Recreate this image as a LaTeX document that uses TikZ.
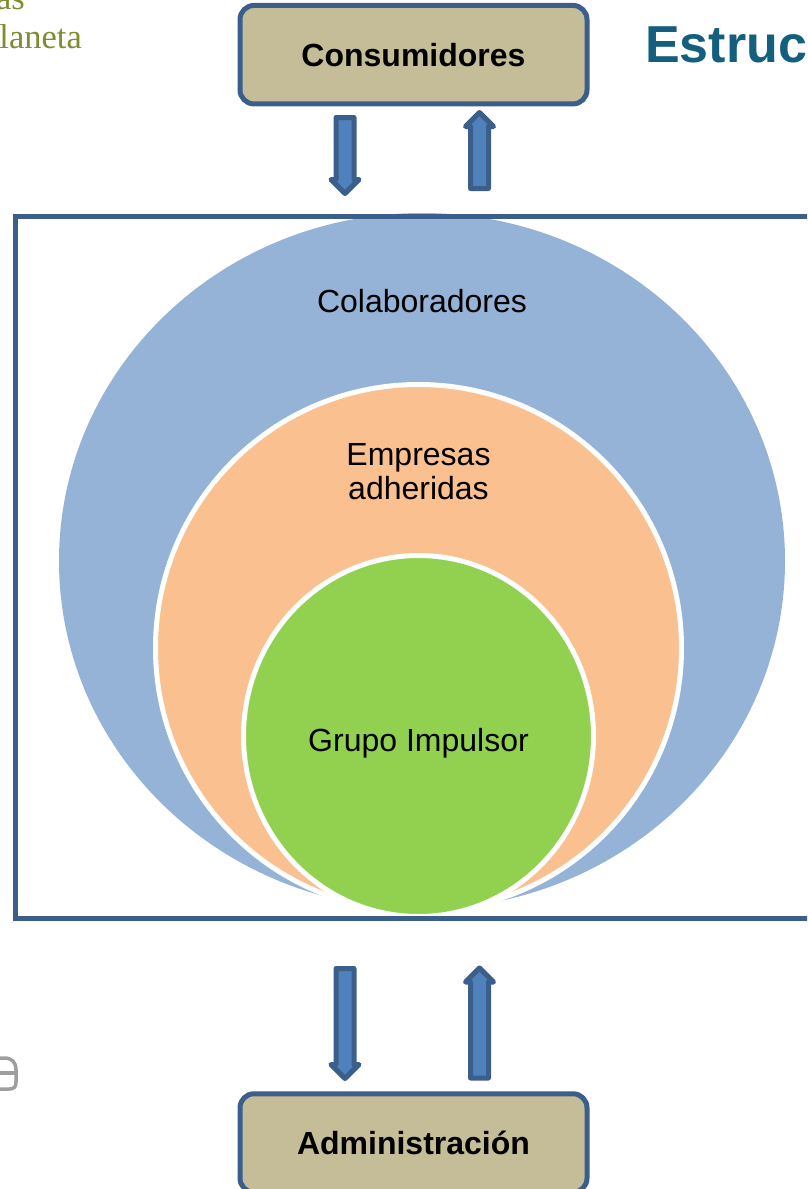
\documentclass[tikz,border=0pt]{standalone}
\usepackage{fontspec}
\setmainfont{Liberation Sans}
\newfontfamily\logofont{Liberation Serif}
\usetikzlibrary{shapes.arrows,shapes.geometric,positioning}
\definecolor{boxblue}{HTML}{3B5F8A}
\definecolor{boxsand}{HTML}{C4BD97}
\definecolor{arrowblue}{HTML}{4F81BD}
\definecolor{outerblue}{HTML}{95B3D7}
\definecolor{midorange}{HTML}{FAC08F}
\definecolor{innergreen}{HTML}{92D050}
\definecolor{titleteal}{HTML}{145F7D}
\definecolor{logoolive}{HTML}{7F8C2F}

\begin{document}
\begin{tikzpicture}[x=1pt,y=-1pt,
            main box/.style={rectangle,rounded corners=14pt,draw=boxblue,fill=boxsand,line width=5pt,
                minimum width=347pt,minimum height=98.5pt,font=\fontsize{32}{34}\selectfont\bfseries},
            flow arrow/.style={single arrow,draw=boxblue,fill=arrowblue,line width=5pt,line join=round,
                inner sep=6.5pt,minimum height=76pt,single arrow head extend=5pt,
                single arrow head indent=0pt},
            down arrow/.style={flow arrow,shape border rotate=270},
            up arrow/.style={flow arrow,shape border rotate=90},
            ring/.style={ellipse,draw=white,line width=5pt,inner sep=0pt},
            ring label/.style={font=\fontsize{32}{34}\selectfont,align=center}]

        \useasboundingbox (0,0) rectangle (807,1189);
        \clip (0,0) rectangle (807,1189);

        \node[ellipse,fill=outerblue,inner sep=0pt,minimum width=726pt,minimum height=696pt] (outer) at (422,561) {};
        \node[ring,fill=midorange,minimum width=526pt,minimum height=527pt] (middle) at (418.5,648) {};
        \node[ring,fill=innergreen,minimum width=350pt,minimum height=361pt] (inner) at (418.5,736) {};

        \node[rectangle,draw=boxblue,line width=5pt,outer sep=0pt,minimum width=900pt,minimum height=702pt,anchor=north west] (frame) at (15,216) {};

        \node[ring label] (colab) at (422,301) {Colaboradores};
        \node[ring label] (empresas) at (418.5,472) {Empresas\\adheridas};
        \node[ring label] (grupo) at (418.5,743) {Grupo Impulsor};

        \node[main box] (consumidores) at (413.5,54.7) {Consumidores};
        \node[main box] (admin) at (413.5,1143) {Administraci\'on};

        \node[down arrow] (downtop) at (345,151) {};
        \node[up arrow] (uptop) at (479.5,155) {};
        \node[down arrow,minimum height=110pt] (downbottom) at (345,1019) {};
        \node[up arrow,minimum height=110pt] (upbottom) at (479.5,1027.5) {};

        \node[anchor=base west,text=titleteal,inner sep=0pt,font=\fontsize{52}{52}\selectfont\bfseries] (title) at (645,62) {Estruc};

        \node[anchor=base east,text=logoolive,inner sep=0pt,font=\fontsize{34.5}{34.5}\logofont\selectfont] (logoa) at (25,9) {as};
        \node[anchor=base east,text=logoolive,inner sep=0pt,font=\fontsize{34.5}{34.5}\logofont\selectfont] (logob) at (82,48) {laneta};

        \draw[line width=3.5pt,color=black!38] (0,1058) -- (4,1058) .. controls (12,1058) and (16,1062) .. (16,1070) -- (16,1082) .. controls (16,1087) and (14,1089) .. (9,1089) -- (0,1089);
        \draw[line width=3.5pt,color=black!38] (0,1073) -- (16,1073);

    \end{tikzpicture}
\end{document}
